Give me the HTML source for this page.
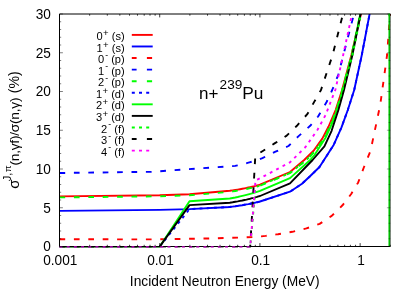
<!DOCTYPE html>
<html><head><meta charset="utf-8"><style>html,body{margin:0;padding:0;background:#fff;}svg{display:block;will-change:transform;}</style></head><body>
<svg width="415" height="291" viewBox="0 0 415 291">
<defs><clipPath id="c"><rect x="59.0" y="14.0" width="331.8" height="233.5"/></clipPath></defs>
<rect width="415" height="291" fill="#fff"/>
<g clip-path="url(#c)" fill="none" stroke-width="1.90" stroke-linejoin="round">
<path d="M59.5 196.4 L159.7 195.3 L189.5 194.3 L229.8 190.8 L232.6 190.4 L235.3 190.0 L237.7 189.6 L240.1 189.2 L242.3 188.8 L244.5 188.4 L246.5 188.0 L248.4 187.5 L250.3 187.1 L252.1 186.7 L253.8 186.3 L255.4 185.9 L257.0 185.5 L258.5 185.1 L260.0 184.7 L290.0 172.0 L304.2 160.0 L313.6 150.8 L322.3 138.6 L328.6 126.5 L335.6 110.0 L342.1 90.0 L351.4 55.0 L360.9 14.0 L363.2 4.0" stroke="#ff0000"/>
<path d="M59.5 210.9 L159.7 209.9 L189.5 209.1 L229.8 207.0 L232.6 206.6 L235.3 206.3 L237.7 205.9 L240.1 205.5 L242.3 205.2 L244.5 204.8 L246.5 204.4 L248.4 204.1 L250.3 203.7 L252.1 203.3 L253.8 203.0 L255.4 202.6 L257.0 202.2 L258.5 201.9 L260.0 201.5 L290.0 191.7 L302.0 183.7 L310.0 176.3 L319.5 167.0 L324.0 160.0 L333.8 144.7 L341.5 127.3 L347.8 110.0 L354.2 90.0 L361.8 55.0 L369.6 14.0 L371.5 4.0" stroke="#0000ff"/>
<path d="M59.5 239.2 L150.0 239.4 L208.0 238.5 L254.0 237.1 L256.6 236.9 L259.0 236.6 L261.3 236.4 L263.5 236.1 L265.6 235.9 L267.6 235.6 L269.5 235.4 L271.4 235.2 L273.1 234.9 L274.8 234.7 L276.4 234.4 L278.0 234.2 L292.4 231.8 L306.4 228.4 L319.6 223.9 L331.7 215.9 L342.5 205.3 L351.2 194.0 L358.2 182.4 L364.0 167.0 L370.5 151.0 L380.2 105.0 L387.1 55.0 L390.0 14.0 L390.5 4.0" stroke="#ff0000" stroke-dasharray="5.7 8.7"/>
<path d="M59.5 173.0 L151.5 171.8 L235.2 165.9 L237.5 165.4 L239.8 164.9 L241.9 164.4 L243.9 163.9 L245.8 163.4 L247.6 162.9 L249.4 162.4 L251.9 161.7 L254.2 161.0 L256.4 160.2 L258.5 159.5 L260.5 158.8 L262.4 158.1 L275.5 151.7 L288.5 146.0 L298.3 136.4 L310.2 125.8 L318.1 116.5 L326.6 102.0 L332.2 90.0 L338.2 75.0 L354.0 14.0 L356.2 4.0" stroke="#0000ff" stroke-dasharray="5.7 8.7"/>
<path d="M59.5 197.4 L159.7 196.3 L189.5 195.3 L229.8 191.8 L232.6 191.4 L235.3 191.0 L237.7 190.6 L240.1 190.2 L242.3 189.8 L244.5 189.4 L246.5 189.0 L248.4 188.5 L250.3 188.1 L252.1 187.7 L253.8 187.3 L255.4 186.9 L257.0 186.5 L258.5 186.1 L260.0 185.7 L290.0 173.1 L306.4 160.0 L311.5 155.0 L324.2 138.6 L332.8 120.0 L339.6 100.0 L351.6 55.0 L360.2 14.0 L362.3 4.0" stroke="#00ff00" stroke-dasharray="5.7 8.7"/>
<path d="M59.5 246.9 L159.5 246.9 L189.5 209.1 L229.8 207.0 L232.6 206.6 L235.3 206.3 L237.7 205.9 L240.1 205.5 L242.3 205.2 L244.5 204.8 L246.5 204.4 L248.4 204.1 L250.3 203.7 L252.1 203.3 L253.8 203.0 L255.4 202.6 L257.0 202.2 L258.5 201.9 L260.0 201.5 L290.0 191.7 L302.0 183.7 L310.0 176.3 L319.5 167.0 L324.0 160.0 L333.8 144.7 L341.5 127.3 L347.8 110.0 L354.2 90.0 L361.8 55.0 L369.6 14.0 L371.5 4.0" stroke="#0000ff" stroke-dasharray="2.9 4.3"/>
<path d="M59.5 246.9 L159.5 246.9 L189.5 201.3 L229.8 198.5 L232.6 198.0 L235.3 197.5 L237.7 197.0 L240.1 196.4 L242.3 195.9 L244.5 195.4 L246.5 194.9 L248.4 194.4 L250.3 193.9 L252.1 193.4 L253.8 192.9 L255.4 192.3 L257.0 191.8 L258.5 191.3 L260.0 190.8 L290.0 178.1 L310.2 160.0 L314.5 155.0 L325.4 138.0 L333.6 120.0 L340.2 100.0 L351.9 55.0 L360.3 14.0 L362.4 4.0" stroke="#00ff00"/>
<path d="M59.5 246.9 L159.5 246.9 L189.5 205.1 L229.8 202.7 L232.6 202.3 L235.3 201.8 L237.7 201.4 L240.1 200.9 L242.3 200.5 L244.5 200.0 L246.5 199.6 L248.4 199.1 L250.3 198.7 L252.1 198.2 L253.8 197.8 L255.4 197.3 L257.0 196.9 L258.5 196.4 L260.0 196.0 L290.0 183.3 L312.6 160.0 L324.4 146.4 L331.6 130.8 L338.4 110.0 L344.0 90.0 L352.4 55.0 L360.6 14.0 L362.7 4.0" stroke="#000000"/>
<path d="M59.5 246.9 L250.2 246.9 L252.9 217.1 L255.4 187.2 L257.8 186.3 L260.0 185.4 L290.0 173.1 L306.4 160.0 L311.5 155.0 L324.2 138.6 L332.8 120.0 L339.6 100.0 L352.5 55.0 L361.0 14.0 L363.2 4.0" stroke="#00ff00" stroke-dasharray="2.9 4.3"/>
<path d="M59.5 246.9 L250.2 246.9 L252.8 201.3 L255.3 155.7 L257.8 154.2 L260.2 152.7 L262.4 151.2 L274.6 143.4 L286.7 135.6 L296.9 125.8 L307.5 113.9 L314.2 101.9 L321.0 90.0 L332.6 55.0 L343.0 14.0 L345.2 4.0" stroke="#000000" stroke-dasharray="5.7 8.7"/>
<path d="M59.5 246.9 L250.2 246.9 L252.9 213.6 L255.5 180.3 L257.8 179.3 L260.0 178.3 L290.0 162.3 L305.5 147.0 L317.5 129.8 L325.5 115.2 L335.3 90.0 L343.2 55.0 L352.0 14.0 L354.0 4.0" stroke="#ff00ff" stroke-dasharray="2.9 4.3"/>
<path d="M389.3 13.5 V247" stroke="#00cc00" stroke-width="1.7"/>
</g>
<path d="M389.80 14.00 H59.50 V246.50 H389.80" fill="none" stroke="#000" stroke-width="1"/>
<path d="M390.30 13.50 V247.00" fill="none" stroke="#000" stroke-opacity="0.55" stroke-width="1"/>
<rect x="388.45" y="13.5" width="1.6" height="2.6" fill="#00cc00"/>
<path d="M59.5 246.7 H250.2" stroke="#ff00ff" stroke-opacity="0.6" stroke-width="1.4" stroke-dasharray="2.9 4.3" fill="none"/>
<path d="M59.50 246.50 h3.40 M59.50 238.75 h1.70 M59.50 231.00 h1.70 M59.50 223.25 h1.70 M59.50 215.50 h1.70 M59.50 207.75 h3.40 M59.50 200.00 h1.70 M59.50 192.25 h1.70 M59.50 184.50 h1.70 M59.50 176.75 h1.70 M59.50 169.00 h3.40 M59.50 161.25 h1.70 M59.50 153.50 h1.70 M59.50 145.75 h1.70 M59.50 138.00 h1.70 M59.50 130.25 h3.40 M59.50 122.50 h1.70 M59.50 114.75 h1.70 M59.50 107.00 h1.70 M59.50 99.25 h1.70 M59.50 91.50 h3.40 M59.50 83.75 h1.70 M59.50 76.00 h1.70 M59.50 68.25 h1.70 M59.50 60.50 h1.70 M59.50 52.75 h3.40 M59.50 45.00 h1.70 M59.50 37.25 h1.70 M59.50 29.50 h1.70 M59.50 21.75 h1.70 M59.50 14.00 h3.40" stroke="#000" stroke-width="0.5" fill="none"/>
<path d="M59.50 246.50 v-3.40 M59.50 14.00 v3.40 M89.67 246.50 v-1.70 M89.67 14.00 v1.70 M107.31 246.50 v-1.70 M107.31 14.00 v1.70 M119.83 246.50 v-1.70 M119.83 14.00 v1.70 M129.54 246.50 v-1.70 M129.54 14.00 v1.70 M137.48 246.50 v-1.70 M137.48 14.00 v1.70 M144.19 246.50 v-1.70 M144.19 14.00 v1.70 M150.00 246.50 v-1.70 M150.00 14.00 v1.70 M155.13 246.50 v-1.70 M155.13 14.00 v1.70 M159.71 246.50 v-3.40 M159.71 14.00 v3.40 M189.88 246.50 v-1.70 M189.88 14.00 v1.70 M207.52 246.50 v-1.70 M207.52 14.00 v1.70 M220.04 246.50 v-1.70 M220.04 14.00 v1.70 M229.76 246.50 v-1.70 M229.76 14.00 v1.70 M237.69 246.50 v-1.70 M237.69 14.00 v1.70 M244.40 246.50 v-1.70 M244.40 14.00 v1.70 M250.21 246.50 v-1.70 M250.21 14.00 v1.70 M255.34 246.50 v-1.70 M255.34 14.00 v1.70 M259.92 246.50 v-3.40 M259.92 14.00 v3.40 M290.09 246.50 v-1.70 M290.09 14.00 v1.70 M307.74 246.50 v-1.70 M307.74 14.00 v1.70 M320.26 246.50 v-1.70 M320.26 14.00 v1.70 M329.97 246.50 v-1.70 M329.97 14.00 v1.70 M337.90 246.50 v-1.70 M337.90 14.00 v1.70 M344.61 246.50 v-1.70 M344.61 14.00 v1.70 M350.42 246.50 v-1.70 M350.42 14.00 v1.70 M355.55 246.50 v-1.70 M355.55 14.00 v1.70 M360.13 246.50 v-3.40 M360.13 14.00 v3.40 M390.30 246.50 v-1.70 M390.30 14.00 v1.70" stroke="#000" stroke-width="0.75" fill="none"/>
<path d="M390.30 246.50 h-3.40 M390.30 238.75 h-1.70 M390.30 231.00 h-1.70 M390.30 223.25 h-1.70 M390.30 215.50 h-1.70 M390.30 207.75 h-3.40 M390.30 200.00 h-1.70 M390.30 192.25 h-1.70 M390.30 184.50 h-1.70 M390.30 176.75 h-1.70 M390.30 169.00 h-3.40 M390.30 161.25 h-1.70 M390.30 153.50 h-1.70 M390.30 145.75 h-1.70 M390.30 138.00 h-1.70 M390.30 130.25 h-3.40 M390.30 122.50 h-1.70 M390.30 114.75 h-1.70 M390.30 107.00 h-1.70 M390.30 99.25 h-1.70 M390.30 91.50 h-3.40 M390.30 83.75 h-1.70 M390.30 76.00 h-1.70 M390.30 68.25 h-1.70 M390.30 60.50 h-1.70 M390.30 52.75 h-3.40 M390.30 45.00 h-1.70 M390.30 37.25 h-1.70 M390.30 29.50 h-1.70 M390.30 21.75 h-1.70 M390.30 14.00 h-3.40" stroke="#000" stroke-width="0.35" fill="none"/>
<text x="124.7" y="40.00" text-anchor="end" font-family="Liberation Sans, sans-serif" font-size="11.1" fill="#000">0<tspan font-size="9.6" dx="0.3" dy="-4.0">+</tspan><tspan dy="4.0"> (s)</tspan></text>
<path d="M131.8 34.90 H152.7" stroke="#ff0000" stroke-width="1.90"/>
<text x="124.7" y="51.57" text-anchor="end" font-family="Liberation Sans, sans-serif" font-size="11.1" fill="#000">1<tspan font-size="9.6" dx="0.3" dy="-4.0">+</tspan><tspan dy="4.0"> (s)</tspan></text>
<path d="M131.8 46.47 H152.7" stroke="#0000ff" stroke-width="1.90"/>
<text x="124.7" y="63.14" text-anchor="end" font-family="Liberation Sans, sans-serif" font-size="11.1" fill="#000">0<tspan font-size="8.6" dx="1.0" dy="-5.6">-</tspan><tspan dy="5.6"> (p)</tspan></text>
<path d="M131.8 58.04 h4.8 M146.9 58.04 h5.2" stroke="#ff0000" stroke-width="1.90"/>
<text x="124.7" y="74.71" text-anchor="end" font-family="Liberation Sans, sans-serif" font-size="11.1" fill="#000">1<tspan font-size="8.6" dx="1.0" dy="-5.6">-</tspan><tspan dy="5.6"> (p)</tspan></text>
<path d="M131.8 69.61 h4.8 M146.9 69.61 h5.2" stroke="#0000ff" stroke-width="1.90"/>
<text x="124.7" y="86.28" text-anchor="end" font-family="Liberation Sans, sans-serif" font-size="11.1" fill="#000">2<tspan font-size="8.6" dx="1.0" dy="-5.6">-</tspan><tspan dy="5.6"> (p)</tspan></text>
<path d="M131.8 81.18 h4.8 M146.9 81.18 h5.2" stroke="#00ff00" stroke-width="1.90"/>
<text x="124.7" y="97.85" text-anchor="end" font-family="Liberation Sans, sans-serif" font-size="11.1" fill="#000">1<tspan font-size="9.6" dx="0.3" dy="-4.0">+</tspan><tspan dy="4.0"> (d)</tspan></text>
<path d="M131.8 92.75 h3 M139 92.75 h3 M146.2 92.75 h3" stroke="#0000ff" stroke-width="1.90"/>
<text x="124.7" y="109.42" text-anchor="end" font-family="Liberation Sans, sans-serif" font-size="11.1" fill="#000">2<tspan font-size="9.6" dx="0.3" dy="-4.0">+</tspan><tspan dy="4.0"> (d)</tspan></text>
<path d="M131.8 104.32 H152.7" stroke="#00ff00" stroke-width="1.90"/>
<text x="124.7" y="120.99" text-anchor="end" font-family="Liberation Sans, sans-serif" font-size="11.1" fill="#000">3<tspan font-size="9.6" dx="0.3" dy="-4.0">+</tspan><tspan dy="4.0"> (d)</tspan></text>
<path d="M131.8 115.89 H152.7" stroke="#000000" stroke-width="1.90"/>
<text x="124.7" y="132.56" text-anchor="end" font-family="Liberation Sans, sans-serif" font-size="11.1" fill="#000">2<tspan font-size="8.6" dx="1.0" dy="-5.6">-</tspan><tspan dy="5.6"> (f)</tspan></text>
<path d="M131.8 127.46 h3 M139 127.46 h3 M146.2 127.46 h3" stroke="#00ff00" stroke-width="1.90"/>
<text x="124.7" y="144.13" text-anchor="end" font-family="Liberation Sans, sans-serif" font-size="11.1" fill="#000">3<tspan font-size="8.6" dx="1.0" dy="-5.6">-</tspan><tspan dy="5.6"> (f)</tspan></text>
<path d="M131.8 139.03 h4.8 M146.9 139.03 h5.2" stroke="#000000" stroke-width="1.90"/>
<text x="124.7" y="155.70" text-anchor="end" font-family="Liberation Sans, sans-serif" font-size="11.1" fill="#000">4<tspan font-size="8.6" dx="1.0" dy="-5.6">-</tspan><tspan dy="5.6"> (f)</tspan></text>
<path d="M131.8 150.60 h3 M139 150.60 h3 M146.2 150.60 h3" stroke="#ff00ff" stroke-width="1.90"/>
<text transform="translate(50.9 251.25) scale(0.975 1)" text-anchor="end" font-family="Liberation Sans, sans-serif" font-size="14">0</text>
<text transform="translate(50.9 212.50) scale(0.975 1)" text-anchor="end" font-family="Liberation Sans, sans-serif" font-size="14">5</text>
<text transform="translate(50.9 173.75) scale(0.975 1)" text-anchor="end" font-family="Liberation Sans, sans-serif" font-size="14">10</text>
<text transform="translate(50.9 135.00) scale(0.975 1)" text-anchor="end" font-family="Liberation Sans, sans-serif" font-size="14">15</text>
<text transform="translate(50.9 96.25) scale(0.975 1)" text-anchor="end" font-family="Liberation Sans, sans-serif" font-size="14">20</text>
<text transform="translate(50.9 57.50) scale(0.975 1)" text-anchor="end" font-family="Liberation Sans, sans-serif" font-size="14">25</text>
<text transform="translate(50.9 18.75) scale(0.975 1)" text-anchor="end" font-family="Liberation Sans, sans-serif" font-size="14">30</text>
<text transform="translate(60.30 264.8) scale(0.975 1)" text-anchor="middle" font-family="Liberation Sans, sans-serif" font-size="14">0.001</text>
<text transform="translate(160.51 264.8) scale(0.975 1)" text-anchor="middle" font-family="Liberation Sans, sans-serif" font-size="14">0.01</text>
<text transform="translate(260.72 264.8) scale(0.975 1)" text-anchor="middle" font-family="Liberation Sans, sans-serif" font-size="14">0.1</text>
<text transform="translate(360.93 264.8) scale(0.975 1)" text-anchor="middle" font-family="Liberation Sans, sans-serif" font-size="14">1</text>
<text transform="translate(224.7 285.8) scale(0.985 1)" text-anchor="middle" font-family="Liberation Sans, sans-serif" font-size="14">Incident Neutron Energy (MeV)</text>
<text x="199" y="98.9" font-family="Liberation Sans, sans-serif" font-size="17">n+<tspan font-size="13.6" dx="1.2" dy="-10">239</tspan><tspan font-size="17.3" dy="10">Pu</tspan></text>
<text transform="translate(18.5 188.7) rotate(-90)" font-family="Liberation Sans, sans-serif" font-size="15">σ</text>
<text transform="translate(10.6 181.2) rotate(-90)" font-family="Liberation Sans, sans-serif" font-size="11">J,<tspan font-size="9.6" dx="0.6">π</tspan></text>
<text transform="translate(18.5 165.5) rotate(-90)" font-family="Liberation Sans, sans-serif" font-size="13.7" textLength="68.0" lengthAdjust="spacing">(n,γf)/σ(n,γ)</text>
<text transform="translate(18.5 93.2) rotate(-90)" font-family="Liberation Sans, sans-serif" font-size="14.1">(%)</text>
</svg>
</body></html>
